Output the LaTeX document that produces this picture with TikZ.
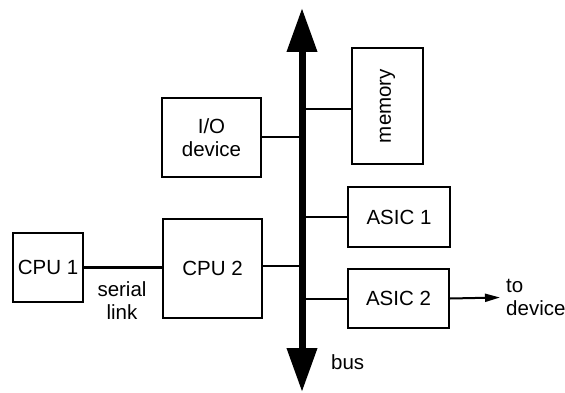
\documentclass[tikz,border=0pt]{standalone}
\usepackage{fontspec}
\setmainfont{Liberation Sans}
\usetikzlibrary{arrows.meta}
\begin{document}
\begin{tikzpicture}[x=1pt,y=-1pt,
  box/.style={draw, line width=2.2pt, inner sep=0pt, align=center,
    font=\fontsize{20.5}{23}\selectfont},
  wire/.style={line width=2pt},
  lbl/.style={inner sep=0pt, align=center, font=\fontsize{20.5}{23}\selectfont},
  busline/.style={line width=7pt, {Triangle[width=29pt,length=44pt]}-{Triangle[width=29pt,length=44pt]}}
]
\useasboundingbox (0,0) rectangle (565,393);
\node[box, minimum width=70pt, minimum height=69pt] (cpu1) at (48,267.5) {CPU 1};
\node[box, minimum width=99pt, minimum height=99pt] (cpu2) at (212.5,268.5) {CPU 2};
\node[box, minimum width=99pt, minimum height=79pt] (io) at (211.5,137.5) {I/O\\device};
\node[box, minimum width=71pt, minimum height=116pt] (mem) at (387.5,106) {\rotatebox{90}{memory}};
\node[box, minimum width=102pt, minimum height=60pt] (asic1) at (399,217) {ASIC 1};
\node[box, minimum width=101pt, minimum height=59pt] (asic2) at (398.5,298.5) {ASIC 2};
\coordinate (bustop) at (302,8);
\coordinate (busbot) at (302,392);
\coordinate (dev) at (500,297.5);
\draw[busline] (busbot) -- (bustop);
\draw[line width=3.2pt] (cpu1.east) -- (cpu1.east -| cpu2.west);
\draw[wire] ([yshift=2.5pt]cpu2.east) -- ([yshift=2.5pt]cpu2.east -| bustop);
\draw[wire] (io.east) -- (io.east -| bustop);
\draw[wire] ([yshift=-3pt]mem.west) -- ([yshift=-3pt]mem.west -| bustop);
\draw[wire] (asic1.west) -- (asic1.west -| bustop);
\draw[wire] (asic2.west) -- (asic2.west -| bustop);
\draw[wire, -{Triangle[width=8pt,length=15pt]}] (asic2.east) -- (dev);
\node[lbl, anchor=west, align=left] (todev) at (506,297) {to\\device};
\node[lbl, anchor=west] (buslbl) at (331,362) {bus};
\node[lbl] (serial) at (122,301) {serial\\link};
\end{tikzpicture}
\end{document}
